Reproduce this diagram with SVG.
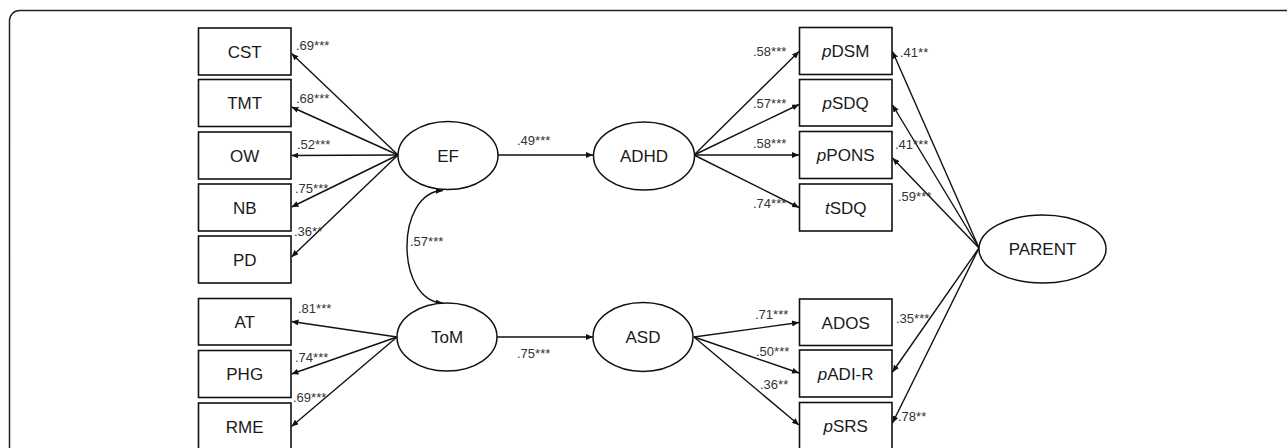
<svg xmlns="http://www.w3.org/2000/svg" width="1287" height="448" viewBox="0 0 1287 448">
<style>
.box{fill:#fff;stroke:#111;stroke-width:1.6}
.ell{fill:#fff;stroke:#111;stroke-width:1.5}
.nt{font-family:"Liberation Sans",Arial,sans-serif;font-size:17px;fill:#1a1a1a;text-anchor:middle}
.lb{font-family:"Liberation Sans",Arial,sans-serif;font-size:13px;fill:#333}
.ln{fill:none;stroke:#111;stroke-width:1.4}
</style>
<defs>
<marker id="ah" markerUnits="userSpaceOnUse" markerWidth="8" markerHeight="6" refX="7" refY="3" orient="auto-start-reverse">
<path d="M0,0 L7,3 L0,6 z" fill="#111"/>
</marker>
</defs>
<rect x="9.5" y="10.5" width="1300" height="460" rx="10" fill="none" stroke="#222" stroke-width="1.5"/>

<g id="connectors" class="ln">
<path d="M398,155 L291.5,53.5" marker-end="url(#ah)"/>
<path d="M398,155 L291.5,107" marker-end="url(#ah)"/>
<path d="M398,155 L291.5,155.5" marker-end="url(#ah)"/>
<path d="M398,155 L291.5,207" marker-end="url(#ah)"/>
<path d="M398,155 L291.5,257" marker-end="url(#ah)"/>
<path d="M397,337 L291.5,321.5" marker-end="url(#ah)"/>
<path d="M397,337 L291.5,374" marker-end="url(#ah)"/>
<path d="M397,337 L291.5,426.5" marker-end="url(#ah)"/>
<path d="M443,190.5 C395,192 395,301 443,303" marker-start="url(#ah)" marker-end="url(#ah)"/>
<path d="M498,155 L593,155" marker-end="url(#ah)"/>
<path d="M497,337 L593,337" marker-end="url(#ah)"/>
<path d="M694,155 L799,51.5" marker-end="url(#ah)"/>
<path d="M694,155 L799,104.5" marker-end="url(#ah)"/>
<path d="M694,155 L799,155" marker-end="url(#ah)"/>
<path d="M694,155 L799,207.5" marker-end="url(#ah)"/>
<path d="M694,337 L799,322.5" marker-end="url(#ah)"/>
<path d="M694,337 L799,373" marker-end="url(#ah)"/>
<path d="M694,337 L799,425" marker-end="url(#ah)"/>
<path d="M979,248 L892.5,51.5" marker-end="url(#ah)"/>
<path d="M979,248 L892.5,105" marker-end="url(#ah)"/>
<path d="M979,248 L892.5,158" marker-end="url(#ah)"/>
<path d="M979,248 L892.5,372" marker-end="url(#ah)"/>
<path d="M979,248 L892.5,423" marker-end="url(#ah)"/>
</g>

<g id="labels" class="lb">
<text x="296" y="50">.69***</text>
<text x="296" y="103">.68***</text>
<text x="297" y="149">.52***</text>
<text x="295" y="193">.75***</text>
<text x="294" y="236">.36**</text>
<text x="298" y="313">.81***</text>
<text x="295" y="362">.74***</text>
<text x="293" y="402">.69***</text>
<text x="517" y="145">.49***</text>
<text x="410" y="246">.57***</text>
<text x="517" y="358">.75***</text>
<text x="753" y="56">.58***</text>
<text x="753" y="108">.57***</text>
<text x="753" y="148">.58***</text>
<text x="753" y="208">.74***</text>
<text x="755" y="319">.71***</text>
<text x="756" y="356">.50***</text>
<text x="760" y="389">.36**</text>
<text x="900" y="57">.41**</text>
<text x="895" y="149">.41***</text>
<text x="898" y="201">.59***</text>
<text x="896" y="323">.35***</text>
<text x="898" y="421">.78**</text>
</g>

<g id="CST"><rect class="box" x="198.5" y="28" width="92.5" height="47"/><text class="nt" x="244.7" y="57.5">CST</text></g>
<g id="TMT"><rect class="box" x="198.5" y="79.5" width="92.5" height="47"/><text class="nt" x="244.7" y="109">TMT</text></g>
<g id="OW"><rect class="box" x="198.5" y="132" width="92.5" height="47"/><text class="nt" x="244.7" y="161.5">OW</text></g>
<g id="NB"><rect class="box" x="198.5" y="184" width="92.5" height="47"/><text class="nt" x="244.7" y="213.5">NB</text></g>
<g id="PD"><rect class="box" x="198.5" y="236" width="92.5" height="47"/><text class="nt" x="244.7" y="265.5">PD</text></g>
<g id="AT"><rect class="box" x="198.5" y="298.5" width="92.5" height="46.5"/><text class="nt" x="244.7" y="328">AT</text></g>
<g id="PHG"><rect class="box" x="198.5" y="350.5" width="92.5" height="47"/><text class="nt" x="244.7" y="380">PHG</text></g>
<g id="RME"><rect class="box" x="198.5" y="403" width="92.5" height="47"/><text class="nt" x="244.7" y="432.5">RME</text></g>

<g id="EF"><ellipse class="ell" cx="448" cy="155.5" rx="50" ry="34"/><text class="nt" x="448" y="161.5">EF</text></g>
<g id="ToM"><ellipse class="ell" cx="447" cy="337" rx="50" ry="34"/><text class="nt" x="447" y="343">ToM</text></g>
<g id="ADHD"><ellipse class="ell" cx="644" cy="156" rx="50.5" ry="34"/><text class="nt" x="644" y="162">ADHD</text></g>
<g id="ASD"><ellipse class="ell" cx="643" cy="337" rx="50" ry="34.5"/><text class="nt" x="643" y="343">ASD</text></g>
<g id="PARENT"><ellipse class="ell" cx="1042.5" cy="249" rx="63.5" ry="34"/><text class="nt" x="1042.5" y="255">PARENT</text></g>

<g id="pDSM"><rect class="box" x="799.5" y="27.5" width="92.5" height="47"/><text class="nt" x="845.7" y="57"><tspan font-style="italic">p</tspan>DSM</text></g>
<g id="pSDQ"><rect class="box" x="799.5" y="79.5" width="92.5" height="46.5"/><text class="nt" x="845.7" y="108.5"><tspan font-style="italic">p</tspan>SDQ</text></g>
<g id="pPONS"><rect class="box" x="799.5" y="131.5" width="92.5" height="47"/><text class="nt" x="845.7" y="161"><tspan font-style="italic">p</tspan>PONS</text></g>
<g id="tSDQ"><rect class="box" x="799.5" y="184" width="92.5" height="47"/><text class="nt" x="845.7" y="213.5"><tspan font-style="italic">t</tspan>SDQ</text></g>
<g id="ADOS"><rect class="box" x="799.5" y="299" width="92.5" height="46.5"/><text class="nt" x="845.7" y="328.5">ADOS</text></g>
<g id="pADI-R"><rect class="box" x="799.5" y="350" width="92.5" height="47"/><text class="nt" x="845.7" y="379.5"><tspan font-style="italic">p</tspan>ADI-R</text></g>
<g id="pSRS"><rect class="box" x="799.5" y="402.5" width="92.5" height="47"/><text class="nt" x="845.7" y="432"><tspan font-style="italic">p</tspan>SRS</text></g>
</svg>
